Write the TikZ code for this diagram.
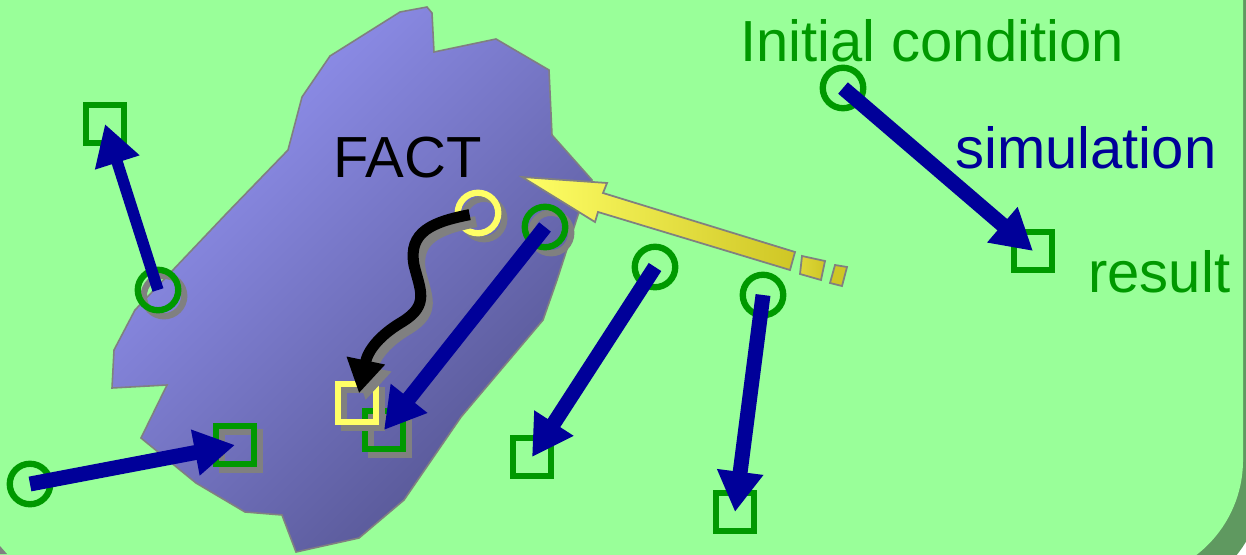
\documentclass[tikz,border=0pt]{standalone}
\usepackage{fontspec}
\setmainfont{Liberation Sans}
\usetikzlibrary{arrows.meta}

\definecolor{bggreen}{HTML}{99FF99}
\definecolor{bgshadow}{HTML}{5F9960}
\definecolor{ptgreen}{HTML}{009900}
\definecolor{simblue}{HTML}{000099}
\definecolor{factyellow}{HTML}{FFFF66}
\definecolor{blobtop}{HTML}{9494F4}
\definecolor{blobbottom}{HTML}{545490}
\definecolor{arrowend}{HTML}{CFC625}

\begin{document}
\begin{tikzpicture}[x=0.02cm,y=-0.02cm,
	initpt/.style={circle,draw=ptgreen,line width=3.6pt,minimum size=0.81cm,inner sep=0pt},
	resbox/.style={rectangle,draw=ptgreen,line width=3.6pt,minimum size=0.77cm,inner sep=0pt},
	shadowed/.style={preaction={draw=gray,transform canvas={shift={(0.12cm,-0.12cm)}}}},
	sim/.style={draw=simblue,line width=8.5pt,-{Triangle[length=23pt,width=25pt]}},
	txt/.style={font=\fontsize{33}{36}\selectfont,inner sep=0pt,anchor=base west}]
	\useasboundingbox (0,0) rectangle (1246,554);
	\clip (0,0) rectangle (1246,554);

	% board and its shadow
	\fill[bgshadow,rounded corners=2.4cm] (-200,-200) rectangle (1263,600);
	\fill[bggreen,rounded corners=2.4cm] (-220,-220) rectangle (1243,580);
	\fill[gray] (0,546) -- (7,554) -- (0,554) -- cycle;

	% the FACT region
	\shade[top color=blobtop,bottom color=blobbottom,shading angle=45,draw=gray,line width=0.9pt]
		(400,12) -- (427,7) -- (432,13) -- (434,52) -- (496,39) -- (549,70) -- (552,135)
		-- (592,180) -- (578,215) -- (557,280) -- (543,320) -- (461,417) -- (404,500)
		-- (359,538) -- (296,552) -- (282,515) -- (245,512) -- (196,483) -- (141,438)
		-- (167,385) -- (112,388) -- (114,350) -- (135,310) -- (227,213) -- (288,150)
		-- (302,97) -- (330,56) -- cycle;

	% block arrow into the region
	\shade[left color=factyellow,right color=arrowend,draw=gray,line width=1pt]
		(522,177) -- (607,183) -- (603,193) -- (795,252) -- (790,270) -- (598,212) -- (595,222) -- cycle;
	\shade[left color=arrowend!70!factyellow,right color=arrowend,draw=gray,line width=1pt]
		(802,256) -- (825,261) -- (821,280) -- (800,274) -- cycle;
	\fill[arrowend,draw=gray,line width=1pt] (835,265) -- (847,267) -- (842,286) -- (830,283) -- cycle;

	% initial conditions
	\node[initpt] (ic) at (843,88) {};
	\node[initpt,shadowed] (c1) at (158,290) {};
	\node[initpt,shadowed] (c2) at (545,227) {};
	\node[initpt] (c3) at (655,267) {};
	\node[initpt] (c4) at (763,295) {};
	\node[initpt] (c5) at (30,484) {};
	\node[initpt,shadowed,draw=factyellow] (yc) at (478,213) {};

	% results
	\node[resbox] (res) at (1033,251) {};
	\node[resbox] (s1) at (105,124) {};
	\node[resbox,shadowed] (s2) at (384,430) {};
	\node[resbox] (s3) at (532,457) {};
	\node[resbox] (s4) at (735,512) {};
	\node[resbox,shadowed] (s5) at (235,445) {};
	\node[resbox,shadowed,draw=factyellow] (ys) at (357,403) {};

	% the real trajectory
	\draw[gray,line width=6.3pt,-{Triangle[length=19pt,width=21pt]},shorten <=0.17cm,shorten >=0.2cm,
		transform canvas={shift={(0.13cm,-0.14cm)}}]
		(yc.center) .. controls (432,222) and (408,232) .. (414,265)
		.. controls (420,290) and (430,305) .. (402,322)
		.. controls (380,335) and (368,350) .. (ys.center);
	\draw[black,line width=6.3pt,-{Triangle[length=19pt,width=21pt]},shorten <=0.17cm,shorten >=0.2cm]
		(yc.center) .. controls (432,222) and (408,232) .. (414,265)
		.. controls (420,290) and (430,305) .. (402,322)
		.. controls (380,335) and (368,350) .. (ys.center);

	% simulations
	\draw[sim] (ic.center) -- (res.center);
	\draw[sim,line width=6.5pt] (c1.center) -- (s1.center);
	\draw[sim] (c2.center) -- (s2.center);
	\draw[sim] (c3.center) -- (s3.center);
	\draw[sim] (c4.center) -- (s4.center);
	\draw[sim] (c5.center) -- (s5.center);

	\node[txt,ptgreen] (ictext) at (740,62) {Initial condition};
	\node[txt,simblue] (simtext) at (955,168) {simulation};
	\node[txt,ptgreen] (restext) at (1088,292) {result};
	\node[txt,black] (facttext) at (333,177) {FACT};
\end{tikzpicture}
\end{document}
